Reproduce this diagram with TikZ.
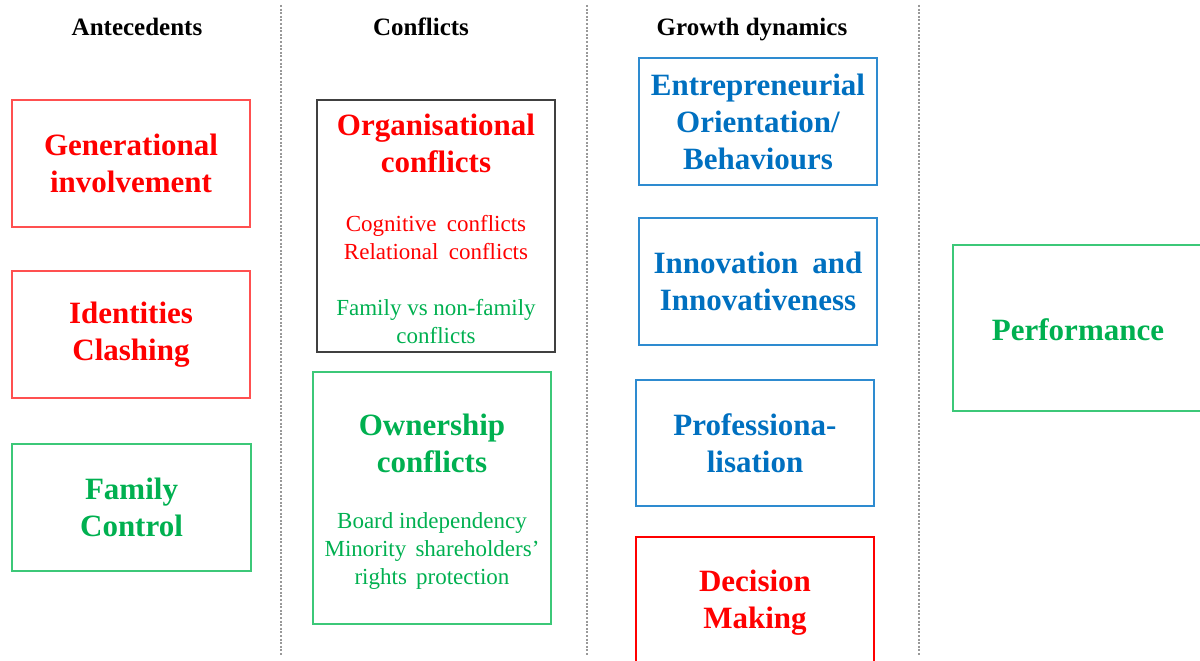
\documentclass[tikz,border=0pt]{standalone}
\usepackage{fontspec}
\setmainfont{Liberation Serif}
\definecolor{cred}{HTML}{FF0000}
\definecolor{bred}{HTML}{FF5050}
\definecolor{cgreen}{HTML}{00B050}
\definecolor{bgreen}{HTML}{3CC878}
\definecolor{cblue}{HTML}{0070C0}
\definecolor{bblue}{HTML}{2E8BD0}
\definecolor{bgray}{HTML}{404040}
\newcommand\hdrfont{\fontsize{25}{28}\selectfont\bfseries}
\newcommand\ttlfont{\fontsize{31}{37}\selectfont\bfseries}
\newcommand\subfont{\fontsize{23}{28}\selectfont}
\begin{document}
\begin{tikzpicture}[x=1pt,y=-1pt,
  box/.style={draw, line width=1.8pt, inner sep=0pt, align=center, font=\ttlfont},
  hdr/.style={font=\hdrfont, text=black, inner sep=0pt, anchor=base},
  sep/.style={draw=gray!80, line width=1.1pt, dash pattern=on 2pt off 1.6pt},
  txt/.style={align=center, inner sep=0pt}]
\useasboundingbox (0,0) rectangle (1200,661);
\clip (0,0) rectangle (1200,661);
% headers
\node[hdr] (h1) at (137,35.5) {Antecedents};
\node[hdr] (h2) at (421,35.5) {Conflicts};
\node[hdr] (h3) at (752,35.5) {Growth dynamics};
% separators
\coordinate (s1t) at (281,5);  \coordinate (s1b) at (281,655);
\coordinate (s2t) at (587,5);  \coordinate (s2b) at (587,655);
\coordinate (s3t) at (919,5);  \coordinate (s3b) at (919,655);
\draw[sep] (s1t) -- (s1b);
\draw[sep] (s2t) -- (s2b);
\draw[sep] (s3t) -- (s3b);
% antecedents
\node[box, draw=bred, text=cred, minimum width=238pt, minimum height=127pt] (gen) at (131,163.5) {Generational\\involvement};
\node[box, draw=bred, text=cred, minimum width=238pt, minimum height=127pt] (idc) at (131,334.5) {Identities\\Clashing};
\node[box, draw=bgreen, text=cgreen, minimum width=239pt, minimum height=127pt] (fam) at (131.5,507.5) {Family\\Control};
% conflicts
\node[box, draw=bgray, minimum width=238pt, minimum height=252pt] (org) at (436,226) {};
\node[txt, font=\ttlfont, text=cred] (orgt) at (436,143) {Organisational\\conflicts};
\node[txt, font=\subfont, text=cred] (orgs) at (436,238) {Cognitive\hspace{0.2em} conflicts\\Relational\hspace{0.2em} conflicts};
\node[txt, font=\subfont, text=cgreen] (orgf) at (436,322) {Family vs non-family\\conflicts};
\node[box, draw=bgreen, minimum width=238pt, minimum height=252pt] (own) at (432,498) {};
\node[txt, font=\ttlfont, text=cgreen] (ownt) at (432,443.5) {Ownership\\conflicts};
\node[txt, font=\subfont, text=cgreen] (owns) at (432,551) {Board independency\\Minority\hspace{0.15em} shareholders'\\rights\hspace{0.15em} protection};
% growth dynamics
\node[box, draw=bblue, text=cblue, minimum width=238pt, minimum height=127pt] (ent) at (758,121.5) {Entrepreneurial\\Orientation/\\Behaviours};
\node[box, draw=bblue, text=cblue, minimum width=238pt, minimum height=127pt] (inn) at (758,281.5) {Innovation\hspace{0.2em} and\\Innovativeness};
\node[box, draw=bblue, text=cblue, minimum width=238pt, minimum height=126pt] (pro) at (755,443) {Professiona-\\lisation};
\node[box, draw=cred, text=cred, minimum width=238pt, minimum height=132pt] (dec) at (755,603) {Decision\\Making};
% performance
\node[box, draw=bgreen, minimum width=257pt, minimum height=166pt] (per) at (1081.5,328) {};
\node[txt, font=\ttlfont, text=cgreen] (pert) at (1078,330) {Performance};
\end{tikzpicture}
\end{document}
